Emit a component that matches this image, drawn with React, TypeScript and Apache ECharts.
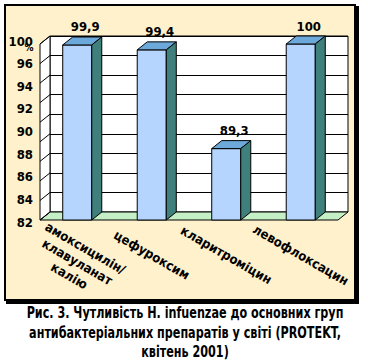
import React, { useEffect, useRef } from "react";
import * as echarts from "echarts";

const categories = [
  "амоксицилін/\nклавуланат\nкалію",
  "цефуроксим",
  "кларитроміцин",
  "левофлоксацин",
];
const values = [99.9, 99.4, 89.3, 100];
const valueLabels = ["99,9", "99,4", "89,3", "100"];
const yTickLabels = ["82", "84", "86", "88", "90", "92", "94", "96", "100"];
const captionLines = [
  "Рис. 3. Чутливість H. infuenzae до основних груп",
  "антибактеріальних препаратів у світі (PROTEKT,",
  "квітень 2001)",
];

const FONT = '"DejaVu Sans Condensed", "Liberation Sans Narrow", "DejaVu Sans", sans-serif';
const DX = 10;
const DY = -8;
const Y_MIN = 82;
const Y_MAX = 100;
const Y_STEP = 2;

const C_BG = "#FFF1CB";
const C_FRONT = "#B5D5FF";
const C_TOP = "#6CA8D9";
const C_SIDE = "#40807C";
const C_FLOOR = "#C5EFC5";

const isMulti = (s: string) => s.indexOf("\n") >= 0;

export default function App() {
  const ref = useRef<HTMLDivElement>(null);
  useEffect(() => {
    if (!ref.current) return;
    const chart = echarts.init(ref.current, null, { renderer: "svg" });
    const labelFont = { fontFamily: FONT, fontWeight: "bold" as const, color: "#000" };
    const catLabel = {
      ...labelFont, rotate: -30, align: "center", verticalAlign: "middle",
      fontSize: 13, lineHeight: 16, interval: 0,
    };
    const option: any = {
      animation: false,
      grid: [
        { left: 40, right: 30, top: 44, bottom: 140 },
        {
          left: 50, right: 20, top: 36, bottom: 148, show: true,
          backgroundColor: "#fff", borderColor: "#000", borderWidth: 1,
        },
        { left: 40, right: 30, top: 41, bottom: 138 },
      ],
      xAxis: [
        {
          gridIndex: 0, type: "category", data: categories,
          axisLine: { show: false }, axisTick: { show: false }, splitLine: { show: false },
          axisLabel: { ...catLabel, margin: 35, formatter: (v: string) => (isMulti(v) ? "" : v) },
        },
        { gridIndex: 1, type: "category", data: categories, show: false },
        { gridIndex: 2, type: "category", data: categories, show: false },
        {
          gridIndex: 0, type: "category", position: "bottom", data: categories,
          axisLine: { show: false }, axisTick: { show: false }, splitLine: { show: false },
          axisLabel: { ...catLabel, margin: 42, formatter: (v: string) => (isMulti(v) ? v : "") },
        },
      ],
      yAxis: [
        { gridIndex: 0, type: "value", min: Y_MIN, max: Y_MAX, interval: Y_STEP, show: false },
        {
          gridIndex: 1, type: "value", min: Y_MIN, max: Y_MAX, interval: Y_STEP,
          axisLine: { show: false }, axisTick: { show: false }, axisLabel: { show: false },
          splitLine: { show: true, lineStyle: { color: "#000", width: 1 } },
        },
        {
          gridIndex: 2, type: "category", data: yTickLabels, boundaryGap: false,
          axisLine: { show: false }, axisTick: { show: false }, splitLine: { show: false },
          axisLabel: { ...labelFont, margin: 7, fontSize: 13, interval: 0 },
        },
      ],
      graphic: [
        {
          type: "rect", z: -10, silent: true,
          shape: { x: 6, y: 6, width: 353, height: 298 },
          style: { fill: "#000" },
        },
        {
          type: "rect", z: -9, silent: true,
          shape: { x: 5, y: 5, width: 350, height: 295 },
          style: { fill: C_BG, stroke: "#000", lineWidth: 2 },
        },
        {
          type: "text", z: 10, x: 29, y: 47,
          style: { text: "%", fontSize: 10, fontWeight: "bold", fontFamily: FONT, fill: "#000", align: "center", verticalAlign: "middle" },
        },
        ...captionLines.map((t, i) => ({
          type: "text", x: 185, y: 313 + i * 19.5, scaleX: 0.83,
          style: {
            text: t, fontSize: 15, fontWeight: "bold", fontFamily: FONT,
            fill: "#000", align: "center", verticalAlign: "middle",
          },
        })),
      ],
      series: [
        {
          type: "custom", xAxisIndex: 0, yAxisIndex: 0, z: 1, silent: true, clip: false,
          data: [[0, Y_MIN]],
          renderItem: (params: any, api: any) => {
            const cs = params.coordSys;
            const x0 = cs.x, x1 = cs.x + cs.width, yT = cs.y, yB = cs.y + cs.height;
            const children: any[] = [];
            children.push({
              type: "polygon",
              shape: { points: [[x0, yB], [x1, yB], [x1 + DX, yB + DY], [x0 + DX, yB + DY]] },
              style: { fill: C_FLOOR, stroke: "#000", lineWidth: 1 },
            });
            children.push({
              type: "polygon",
              shape: { points: [[x0, yT], [x0 + DX, yT + DY], [x0 + DX, yB + DY], [x0, yB]] },
              style: { fill: "#fff", stroke: "#000", lineWidth: 1 },
            });
            for (let v = Y_MIN; v <= Y_MAX; v += Y_STEP) {
              const y = api.coord([0, v])[1];
              children.push({
                type: "line",
                shape: { x1: x0, y1: y, x2: x0 + DX, y2: y + DY },
                style: { stroke: "#000", lineWidth: 1 },
              });
            }
            return { type: "group", children };
          },
        },
        {
          type: "custom", xAxisIndex: 0, yAxisIndex: 0, z: 2, silent: true, clip: false,
          data: values.map((v, i) => [i, v]),
          renderItem: (params: any, api: any) => {
            const idx = api.value(0);
            const top = api.coord([idx, api.value(1)]);
            const base = api.coord([idx, Y_MIN]);
            const bw = api.size([1, 0])[0] * 0.39;
            const xa = top[0] - bw / 2;
            const xb = top[0] + bw / 2;
            const yt = top[1];
            const yb = base[1];
            return {
              type: "group",
              children: [
                {
                  type: "rect",
                  shape: { x: xa, y: yt, width: bw, height: yb - yt },
                  style: { fill: C_FRONT, stroke: "#000", lineWidth: 1 },
                },
                {
                  type: "polygon",
                  shape: { points: [[xa, yt], [xb, yt], [xb + DX, yt + DY], [xa + DX, yt + DY]] },
                  style: { fill: C_TOP, stroke: "#000", lineWidth: 1 },
                },
                {
                  type: "polygon",
                  shape: { points: [[xb, yt], [xb + DX, yt + DY], [xb + DX, yb + DY], [xb, yb]] },
                  style: { fill: C_SIDE, stroke: "#000", lineWidth: 1 },
                },
                {
                  type: "text",
                  x: top[0] + 8, y: yt + DY - 10,
                  style: {
                    text: valueLabels[params.dataIndex], fontSize: 13, fontWeight: "bold",
                    fontFamily: FONT, fill: "#000", align: "center", verticalAlign: "middle",
                  },
                },
              ],
            };
          },
        },
      ],
    };
    chart.setOption(option);
    return () => chart.dispose();
  }, []);
  return (
    <div
      ref={ref}
      style={{ position: "absolute", left: 0, top: 0, width: 368, height: 360, background: "#fff" }}
    />
  );
}
